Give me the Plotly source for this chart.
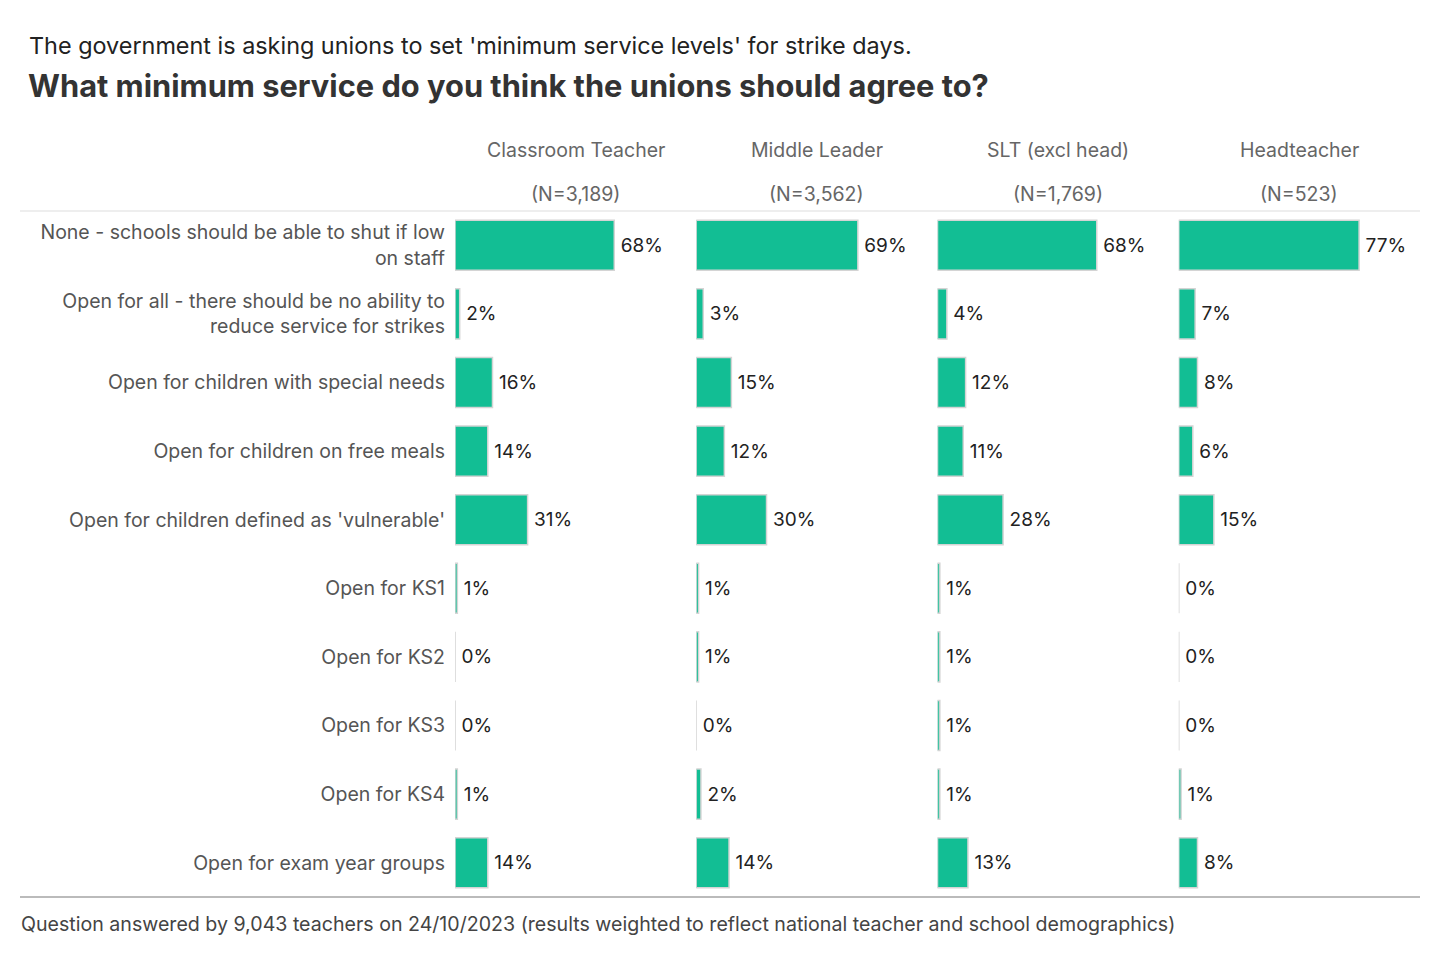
import plotly.graph_objects as go
from plotly.subplots import make_subplots

categories = [
    "None - schools should be able to shut if low<br>on staff",
    "Open for all - there should be no ability to<br>reduce service for strikes",
    "Open for children with special needs",
    "Open for children on free meals",
    "Open for children defined as 'vulnerable'",
    "Open for KS1",
    "Open for KS2",
    "Open for KS3",
    "Open for KS4",
    "Open for exam year groups",
]
groups = ["Classroom Teacher", "Middle Leader", "SLT (excl head)", "Headteacher"]
group_n = ["(N=3,189)", "(N=3,562)", "(N=1,769)", "(N=523)"]
classroom_teacher = [68, 2, 16, 14, 31, 1, 0, 0, 1, 14]
middle_leader = [69, 3, 15, 12, 30, 1, 1, 0, 2, 14]
slt_excl_head = [68, 4, 12, 11, 28, 1, 1, 1, 1, 13]
headteacher = [77, 7, 8, 6, 15, 0, 0, 0, 1, 8]
series = [classroom_teacher, middle_leader, slt_excl_head, headteacher]

FONT = "Inter"
TEAL = "#12BE94"

fig = make_subplots(rows=1, cols=4, shared_yaxes=True, horizontal_spacing=0)

for i, vals in enumerate(series):
    fig.add_trace(
        go.Bar(
            y=categories,
            x=[v / 100 for v in vals],
            orientation="h",
            marker=dict(color=TEAL, line=dict(color="#d4d4d4", width=1.5)),
            text=[f"\u2009{v}%" for v in vals],
            textposition="outside",
            textfont=dict(family=FONT, size=19, color="#222222"),
            cliponaxis=False,
            showlegend=False,
            hoverinfo="skip",
        ),
        row=1, col=i + 1,
    )
    fig.update_xaxes(
        range=[0, 1.03], showticklabels=False, ticks="",
        showgrid=True, tickvals=[0], gridcolor="#d9d9d9", griddash="dot", gridwidth=1,
        zeroline=False, showline=False, fixedrange=True,
        row=1, col=i + 1,
    )

fig.update_yaxes(autorange="reversed", showgrid=False, zeroline=False, showline=False,
                 ticks="", ticklabelstandoff=9,
                 tickfont=dict(family=FONT, size=19.5, color="#555555"))

W, H = 1440, 960
OFF = 8  # page offset of the rendered figure
L, R, T, B = 455 - OFF, 20 + OFF, 211 - OFF, 63 + OFF
pw = W - L - R
ph = H - T - B

def px2x(x):
    return (x - OFF - L) / pw

def px2y(y):
    return 1 - (y - OFF - T) / ph

annotations = []
for i, (g, n) in enumerate(zip(groups, group_n)):
    cx = 0.125 + 0.25 * i
    annotations.append(dict(text=g, x=cx, y=px2y(150), xref="paper", yref="paper",
                            xanchor="center", yanchor="middle", showarrow=False,
                            font=dict(family=FONT, size=19.5, color="#666666")))
    annotations.append(dict(text=n, x=cx, y=px2y(194), xref="paper", yref="paper",
                            xanchor="center", yanchor="middle", showarrow=False,
                            font=dict(family=FONT, size=19.5, color="#666666")))

annotations.append(dict(text="The government is asking unions to set 'minimum service levels' for strike days.",
                        x=px2x(27), y=px2y(46), xref="paper", yref="paper", showarrow=False,
                        xanchor="left", yanchor="middle",
                        font=dict(family=FONT, size=23.4, color="#222222")))
annotations.append(dict(text="<b>What minimum service do you think the unions should agree to?</b>",
                        x=px2x(26), y=px2y(85), xref="paper", yref="paper", showarrow=False,
                        xanchor="left", yanchor="middle",
                        font=dict(family=FONT, size=30.8, color="#333333")))
annotations.append(dict(text="Question answered by 9,043 teachers on 24/10/2023 (results weighted to reflect national teacher and school demographics)",
                        x=px2x(19), y=px2y(924), xref="paper", yref="paper", showarrow=False,
                        xanchor="left", yanchor="middle",
                        font=dict(family=FONT, size=19.6, color="#444444")))

shapes = [
    dict(type="line", xref="paper", yref="paper", x0=px2x(20), x1=1, y0=1, y1=1,
         line=dict(color="#dddddd", width=1)),
    dict(type="line", xref="paper", yref="paper", x0=px2x(20), x1=1, y0=0, y1=0,
         line=dict(color="#bbbbbb", width=2)),
]

fig.update_layout(
    width=W, height=H,
    margin=dict(l=L, r=R, t=T, b=B),
    plot_bgcolor="white", paper_bgcolor="white",
    bargap=0.27,
    annotations=annotations,
    shapes=shapes,
    font=dict(family=FONT),
)

fig.write_html("out.html")
